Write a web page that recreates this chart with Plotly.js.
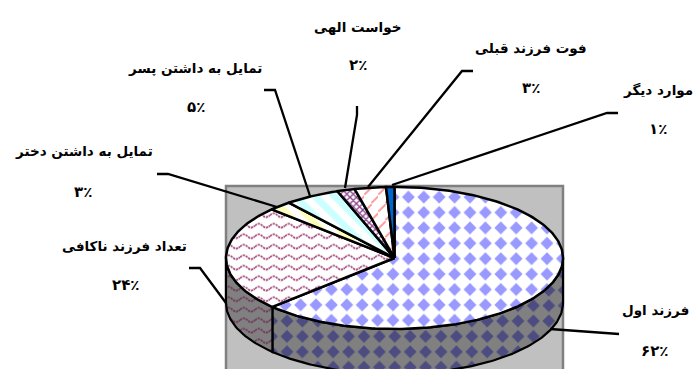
<!DOCTYPE html>
<html>
<head>
<meta charset="utf-8">
<script src="https://cdn.plot.ly/plotly-3.0.1.min.js"></script>
<style>html,body{margin:0;padding:0;background:#fff}#chart{width:696px;height:369px}</style>
</head>
<body>
<div id="chart"></div>
<script>
// slices clockwise from 12 o'clock
const categories = ['فرزند اول', 'تعداد فرزند ناکافی', 'تمایل به داشتن دختر', 'تمایل به داشتن پسر', 'خواست الهی', 'فوت فرزند قبلی', 'موارد دیگر'];
const shares = [62.9, 24.1, 2.2, 5.3, 1.7, 3.0, 0.8];
const pctLabels = ['۶۲٪', '۲۴٪', '۳٪', '۵٪', '۲٪', '۳٪', '۱٪'];

// pie geometry in page pixels
const CX = 394.5, CY = 258, RX = 168.5, RY = 71, DEPTH = 45;

const pt = (deg, dy = 0) => {
  const a = deg * Math.PI / 180;
  return [CX + RX * Math.sin(a), CY - RY * Math.cos(a) + dy];
};
const arc = (from, to, dy = 0) => {
  const out = [];
  const n = Math.max(2, Math.ceil(Math.abs(to - from)));
  for (let i = 0; i <= n; i++) out.push(pt(from + (to - from) * i / n, dy));
  return out;
};

const topStyle = [
  { bgcolor: '#ffffff', fgcolor: '#9999ff', custom: 'diamond', ox: 8, oy: 12.3 },
  { bgcolor: '#ffffff', fgcolor: '#a8507f', custom: 'wave' },
  { shape: '\\', bgcolor: '#ffffff', fgcolor: '#ffffb8', size: 13, solidity: 0.5 },
  { shape: '\\', bgcolor: '#ffffff', fgcolor: '#ccffff', size: 14, solidity: 0.5 },
  { shape: 'x', bgcolor: '#ffffff', fgcolor: '#8a3f8a', size: 4.5, solidity: 0.5 },
  { bgcolor: '#ffffff', fgcolor: '#ff9f9f', custom: 'dash' },
  { shape: '', bgcolor: '#0066cc', fgcolor: '#0066cc', solid: true },
];
const sideStyle = [
  { bgcolor: '#808080', fgcolor: '#4c4c80', custom: 'diamond', ox: 9.8, oy: 13 },
  { bgcolor: '#808080', fgcolor: '#6f3a5a', custom: 'wave' },
];

// tiles fillpattern does not have
const tiles = {
  diamond: st => ({ w: 15.4, h: 15.4, body: '<path fill="' + st.fgcolor + '" d="M7.7 1.3L14.1 7.7L7.7 14.1L1.3 7.7Z"/>', tx: st.ox - 7.7, ty: st.oy - 7.7 }),
  wave: st => ({ w: 15, h: 10.5, body: '<path fill="none" stroke="' + st.fgcolor + '" stroke-width="1.8" stroke-dasharray="2.4 0.7" d="M0 5.2C3 2.6 4.5 2.6 7.5 5.2S12 7.8 15 5.2"/>', tx: 0, ty: 0 }),
  dash: st => ({ w: 14, h: 17, body: '<path fill="none" stroke="' + st.fgcolor + '" stroke-width="2" stroke-linecap="round" d="M1 7L7 1M8 15.5L14 9.5"/>', tx: 0, ty: 0 }),
};

const traces = [];
const customFills = [];

function addPoly(pts, style, width) {
  const tr = {
    type: 'scatter', mode: 'lines', hoverinfo: 'skip', showlegend: false,
    x: pts.map(p => p[0]), y: pts.map(p => p[1]),
    fill: 'toself',
    line: { color: '#000', width: width, shape: 'linear' },
  };
  if (style.solid) tr.fillcolor = style.bgcolor;
  else tr.fillpattern = { shape: style.custom ? '/' : style.shape, bgcolor: style.bgcolor, fgcolor: style.fgcolor, size: style.size || 10, solidity: style.solidity || 0.3 };
  customFills.push(style.custom ? style : null);
  traces.push(tr);
}

// slice boundaries in degrees
const total = shares.reduce((a, b) => a + b, 0);
const edges = [0];
shares.forEach(v => edges.push(edges[edges.length - 1] + v / total * 360));

// visible wall: front half of the rim, 90..270 deg
sideStyle.forEach((st, i) => {
  const from = Math.max(edges[i], 90), to = Math.min(edges[i + 1], 270);
  if (to <= from) return;
  addPoly([...arc(from, to), ...arc(to, from, DEPTH), pt(from)], st, 2.2);
});

// top face
shares.forEach((v, i) => {
  addPoly([[CX, CY], ...arc(edges[i], edges[i + 1]), [CX, CY]], topStyle[i], 2.5);
});

// leader lines, [x, y] page pixels
const leaders = [
  [[618, 113], [607, 113], [392, 185]],
  [[473, 71], [462, 71], [368, 187]],
  [[357, 106], [357, 115], [345, 188]],
  [[264, 90], [275, 90], [310, 196]],
  [[157, 174], [168, 174], [277, 207]],
  [[189, 268], [200, 268], [226, 303]],
  [[550, 329], [619, 334]],
];
const shapes = [{ type: 'rect', xref: 'x', yref: 'y', x0: 226, x1: 563, y0: 186, y1: 380, layer: 'below', fillcolor: '#c0c0c0', line: { color: '#808080', width: 2.5 } }];
leaders.forEach(l => shapes.push({
  type: 'path', xref: 'x', yref: 'y', layer: 'above',
  path: 'M' + l.map(p => p.join(' ')).join('L'),
  line: { color: '#000', width: 2.3 },
}));

// label anchors in page pixels, same order as categories
const nameAt = [[655, 310], [124.5, 245.5], [84, 151], [195, 68], [357, 27], [531, 47.5], [658, 90]];
const pctAt = [[654, 351], [125, 285], [83, 192], [196, 107], [358, 65], [531, 88], [657.5, 129]];
const annotations = [];
categories.forEach((c, i) => {
  annotations.push({ x: nameAt[i][0], y: nameAt[i][1], xref: 'x', yref: 'y', text: '<b>' + c + '</b>', showarrow: false, font: { size: 13.5 } });
  annotations.push({ x: pctAt[i][0], y: pctAt[i][1], xref: 'x', yref: 'y', text: '<b>' + pctLabels[i] + '</b>', showarrow: false, font: { size: 15 } });
});

Plotly.newPlot('chart', traces, {
  width: 696, height: 369,
  margin: { t: 0, r: 0, b: 0, l: 0 },
  paper_bgcolor: '#fff', plot_bgcolor: '#fff',
  font: { family: '"DejaVu Sans", sans-serif', color: '#000' },
  xaxis: { range: [0, 696], visible: false, fixedrange: true },
  yaxis: { range: [369, 0], visible: false, fixedrange: true },
  shapes, annotations,
}, { displayModeBar: false, staticPlot: true }).then(gd => {
  // swap the tile inside the pattern plotly made
  const groups = gd.querySelectorAll('.scatterlayer .trace');
  customFills.forEach((st, i) => {
    if (!st) return;
    const m = /url\(["']?#([^"')]+)/.exec(groups[i].querySelector('.js-fill').style.fill);
    if (!m) return;
    const pat = document.getElementById(m[1]);
    const t = tiles[st.custom](st);
    pat.setAttribute('width', t.w);
    pat.setAttribute('height', t.h);
    pat.setAttribute('patternTransform', 'translate(' + t.tx + ' ' + t.ty + ')');
    pat.innerHTML = '<rect width="' + t.w + '" height="' + t.h + '" fill="' + st.bgcolor + '"/>' + t.body;
  });
});
</script>
</body>
</html>
